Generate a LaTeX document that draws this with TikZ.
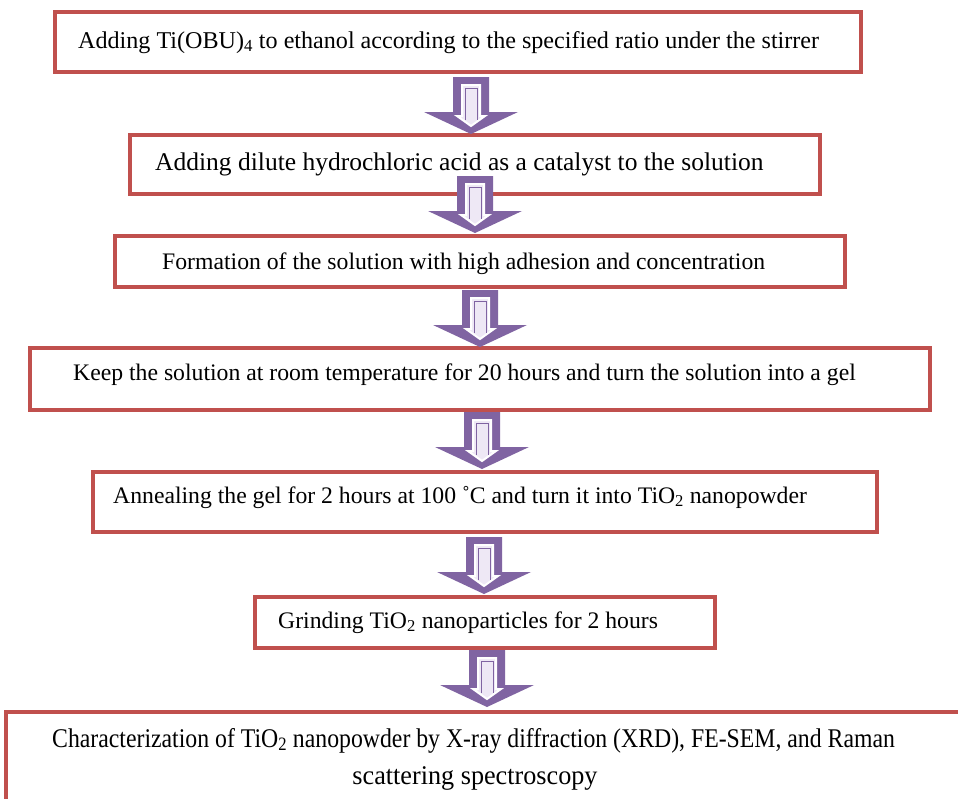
\documentclass[tikz,border=0pt]{standalone}
\usepackage{fontspec}
\setmainfont{Liberation Serif}
\definecolor{boxred}{HTML}{C0504D}
\definecolor{arrpurple}{HTML}{8064A2}
\definecolor{arrlight}{HTML}{EEE8F5}
\begin{document}
\begin{tikzpicture}[x=1pt,y=-1pt,
  box/.style={draw=boxred,line width=3.5pt,fill=white,inner sep=0pt},
  lbl/.style={anchor=base west,inner sep=0pt,font=\fontsize{23.7}{28}\selectfont},
  downarrow/.pic={
    \fill[arrpurple] (-18,0) -- (18,0) -- (18,35) -- (47,35) -- (0,57) -- (-47,35) -- (-18,35) -- cycle;
    \draw[white,line width=2pt,fill=arrlight] (-9,8) -- (9,8) -- (9,39) -- (14,39) -- (0,49) -- (-14,39) -- (-9,39) -- cycle;
    \draw[arrpurple,line width=1pt] (-6,43) -- (-6,11) -- (6,11) -- (6,43);
  }]
\useasboundingbox (0,0) rectangle (958,798);
\fill[white] (0,0) rectangle (958,798);
% boxes
\node[box,minimum width=806pt,minimum height=60pt] (b1) at (458,42) {};
\node[box,minimum width=690pt,minimum height=59pt] (b2) at (475,164.5) {};
\node[box,minimum width=730pt,minimum height=51pt] (b3) at (480,261.5) {};
\node[box,minimum width=900pt,minimum height=62pt] (b4) at (480,379) {};
\node[box,minimum width=784pt,minimum height=60pt] (b5) at (485,502) {};
\node[box,minimum width=460pt,minimum height=51pt] (b6) at (485,622.5) {};
\node[box,minimum width=970pt,minimum height=110pt] (b7) at (491,767) {};
% arrows
\pic at (471,77) {downarrow};
\pic at (475,176) {downarrow};
\pic at (480,290) {downarrow};
\pic at (482,412) {downarrow};
\pic at (484,537) {downarrow};
\pic at (487,650) {downarrow};
% texts
\node[lbl,font=\fontsize{24.1}{28}\selectfont] (t1) at (78,48) {Adding Ti(OBU)\textsubscript{4} to ethanol according to the specified ratio under the stirrer};
\node[lbl,font=\fontsize{25.5}{30}\selectfont] (t2) at (155,170) {Adding dilute hydrochloric acid as a catalyst to the solution};
\node[lbl] (t3) at (162,269) {Formation of the solution with high adhesion and concentration};
\node[lbl] (t4) at (73,380) {Keep the solution at room temperature for 20 hours and turn the solution into a gel};
\node[lbl] (t5) at (113,503) {Annealing the gel for 2 hours at 100 ˚C and turn it into TiO\textsubscript{2} nanopowder};
\node[lbl] (t6) at (278,628) {Grinding TiO\textsubscript{2} nanoparticles for 2 hours};
\node[lbl,font=\fontsize{27}{32}\selectfont,xscale=0.88] (t7) at (52,747) {Characterization of TiO\textsubscript{2} nanopowder by X-ray diffraction (XRD), FE-SEM, and Raman};
\node[anchor=base,inner sep=0pt,font=\fontsize{27}{32}\selectfont,xscale=0.97] (t8) at (475,784) {scattering spectroscopy};
\end{tikzpicture}
\end{document}
